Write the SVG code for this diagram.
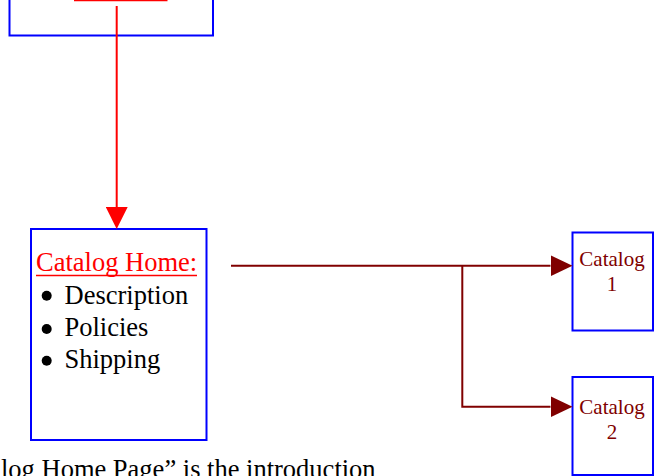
<svg xmlns="http://www.w3.org/2000/svg" width="654" height="476" viewBox="0 0 654 476">
<style>
.box{fill:#fff;stroke:#0000ff;stroke-width:2}
.serif{font-family:"Liberation Serif","Times New Roman",serif}
.home{font-size:26.5px;fill:#ff0000}
.item{font-size:26.5px;fill:#000}
.cat{font-size:21px;fill:#800000;text-anchor:middle}
.ul{stroke:#ff0000;stroke-width:1.4}
.bullet{fill:#000}
.red{fill:none;stroke:#ff0000;stroke-width:2}
.dark{fill:none;stroke:#800000;stroke-width:2}
</style>
<defs>
<marker id="arrRed" markerUnits="userSpaceOnUse" markerWidth="22" markerHeight="22" viewBox="0 0 21 21" refX="0" refY="10.5" orient="auto">
<path d="M0,0 L21,10.5 L0,21 Z" fill="#ff0000"/>
</marker>
<marker id="arrDark" markerUnits="userSpaceOnUse" markerWidth="22" markerHeight="22" viewBox="0 0 21 20" refX="0" refY="10" orient="auto">
<path d="M0,0 L21,10 L0,20 Z" fill="#800000"/>
</marker>
</defs>
<g id="top-page">
<rect class="box" x="9.5" y="-40" width="203.5" height="75.5"/>
<line class="ul" x1="74" y1="0.5" x2="167.5" y2="0.5"/>
</g>
<g id="catalog-home">
<rect class="box" x="31" y="229" width="175.5" height="211"/>
<text class="serif home" x="36" y="271">Catalog Home:</text>
<line class="ul" x1="36" y1="275.5" x2="197" y2="275.5"/>
<circle class="bullet" cx="46.7" cy="295.7" r="5"/>
<text class="serif item" x="64.5" y="303.5">Description</text>
<circle class="bullet" cx="46.7" cy="329" r="5"/>
<text class="serif item" x="64.5" y="336">Policies</text>
<circle class="bullet" cx="46.7" cy="360.7" r="5"/>
<text class="serif item" x="64.5" y="368">Shipping</text>
</g>
<g id="catalog-1">
<rect class="box" x="572.5" y="232.5" width="80.5" height="98"/>
<text class="serif cat" x="612" y="266">Catalog</text>
<text class="serif cat" x="612" y="291">1</text>
</g>
<g id="catalog-2">
<rect class="box" x="572.5" y="377" width="80.5" height="98"/>
<text class="serif cat" x="612" y="414">Catalog</text>
<text class="serif cat" x="612" y="438.5">2</text>
</g>
<g id="connectors">
<path class="red" d="M116.7,6 V207" marker-end="url(#arrRed)"/>
<path class="dark" d="M231,265.7 H550.5" marker-end="url(#arrDark)"/>
<path class="dark" d="M462.3,265.7 V406.7 H550.5" marker-end="url(#arrDark)"/>
</g>
<text class="serif item" x="1" y="477.5">log Home Page” is the introduction</text>
</svg>
